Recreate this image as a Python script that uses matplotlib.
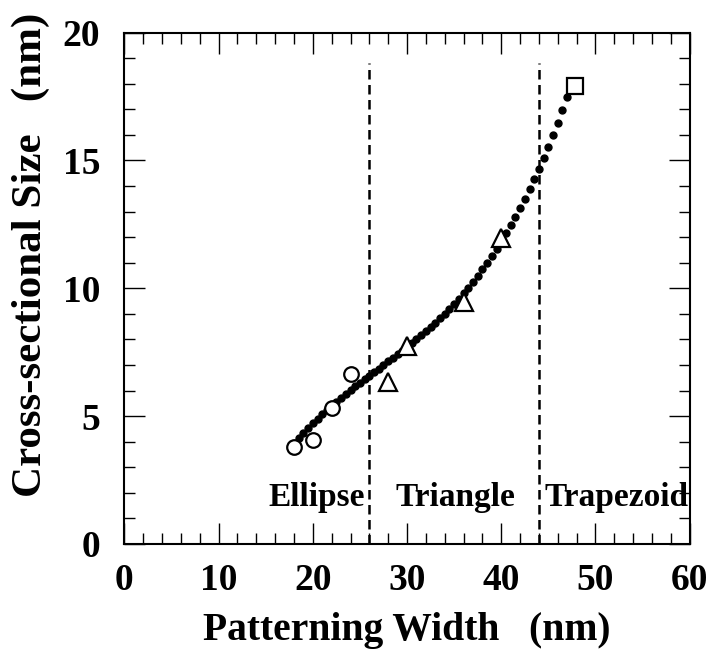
import numpy as np
from matplotlib import pyplot as plt
from matplotlib.ticker import MultipleLocator

# Measured points
circle_x = [18, 20, 22, 24]
circle_y = [3.8, 4.05, 5.33, 6.65]
tri_x = [28, 30, 36, 40]
tri_y = [6.35, 7.75, 9.45, 11.95]
square_x = [47.8]
square_y = [17.9]

# Dotted fit curve, dots
fit_x = [18.5, 19.0, 19.5, 20.0, 20.5, 21.0, 21.5, 22.0, 22.5, 23.0,
         23.5, 24.0, 24.5, 25.0, 25.5, 26.0, 26.5, 27.0, 27.5, 28.0,
         28.5, 29.0, 29.5, 30.0, 30.5, 31.0, 31.5, 32.0, 32.5, 33.0,
         33.5, 34.0, 34.5, 35.0, 35.5, 36.0, 36.5, 37.0, 37.5, 38.0,
         38.5, 39.0, 39.5, 40.0, 40.5, 41.0, 41.5, 42.0, 42.5, 43.0,
         43.5, 44.0, 44.5, 45.0, 45.5, 46.0, 46.5, 47.0]
fit_y = [4.13, 4.33, 4.53, 4.72, 4.90, 5.07, 5.24, 5.41, 5.56, 5.72,
         5.87, 6.02, 6.16, 6.31, 6.45, 6.58, 6.72, 6.86, 7.00, 7.14,
         7.27, 7.42, 7.56, 7.70, 7.85, 8.00, 8.16, 8.32, 8.48, 8.65,
         8.82, 9.00, 9.19, 9.39, 9.59, 9.80, 10.02, 10.25, 10.49, 10.74,
         11.00, 11.27, 11.55, 11.84, 12.15, 12.47, 12.80, 13.15, 13.51, 13.88,
         14.27, 14.68, 15.10, 15.54, 16.00, 16.48, 16.97, 17.48]

# Shape boundaries and labels
boundaries = [26, 44]
boundary_top = 18.8
region_names = ["Ellipse", "Triangle", "Trapezoid"]
region_x = [20.4, 35.1, 52.2]
region_y = 1.8

FONT = "Liberation Serif"

fig = plt.figure(figsize=(7.11, 6.53), dpi=100)
ax = fig.add_axes([0.175, 0.167, 0.795, 0.783])

ax.plot(fit_x, fit_y, linestyle="none", marker="o", ms=5, color="black", zorder=2)
ax.vlines(boundaries, 0, boundary_top, colors="black", linewidth=1.8,
          linestyles=(0, (3.8, 2.2)), zorder=1)

ax.plot(circle_x, circle_y, linestyle="none", marker="o", ms=10.5, mfc="white",
        mec="black", mew=1.6, zorder=3)
ax.plot(tri_x, tri_y, linestyle="none", marker="^", ms=13, mfc="white",
        mec="black", mew=1.6, zorder=3)
ax.plot(square_x, square_y, linestyle="none", marker="s", ms=11, mfc="white",
        mec="black", mew=1.6, zorder=3)

for name, xpos in zip(region_names, region_x):
    ax.text(xpos, region_y, name, ha="center", va="center", fontsize=24,
            fontweight="bold", family=FONT)

ax.set_xlim(0, 60)
ax.set_ylim(0, 20)
ax.xaxis.set_major_locator(MultipleLocator(10))
ax.xaxis.set_minor_locator(MultipleLocator(2))
ax.yaxis.set_major_locator(MultipleLocator(5))
ax.yaxis.set_minor_locator(MultipleLocator(1))
ax.tick_params(which="both", direction="in", top=True, right=True, width=1.0)
ax.tick_params(which="major", length=15)
ax.tick_params(which="minor", length=8)
ax.tick_params(axis="x", which="major", pad=14)
ax.tick_params(axis="y", which="major", pad=17.5)
for spine in ax.spines.values():
    spine.set_linewidth(1.5)

for lab in ax.get_xticklabels() + ax.get_yticklabels():
    lab.set_family(FONT)
    lab.set_fontweight("bold")
    lab.set_fontsize(27)

ax.set_xlabel("Patterning Width   (nm)", family=FONT, fontweight="bold", fontsize=28.5)
ax.set_ylabel("Cross-sectional Size   (nm)", family=FONT, fontweight="bold", fontsize=31)
ax.xaxis.set_label_coords(0.5, -0.134)
ax.yaxis.set_label_coords(-0.132, 0.565)

fig.savefig("out.png", dpi=100)
